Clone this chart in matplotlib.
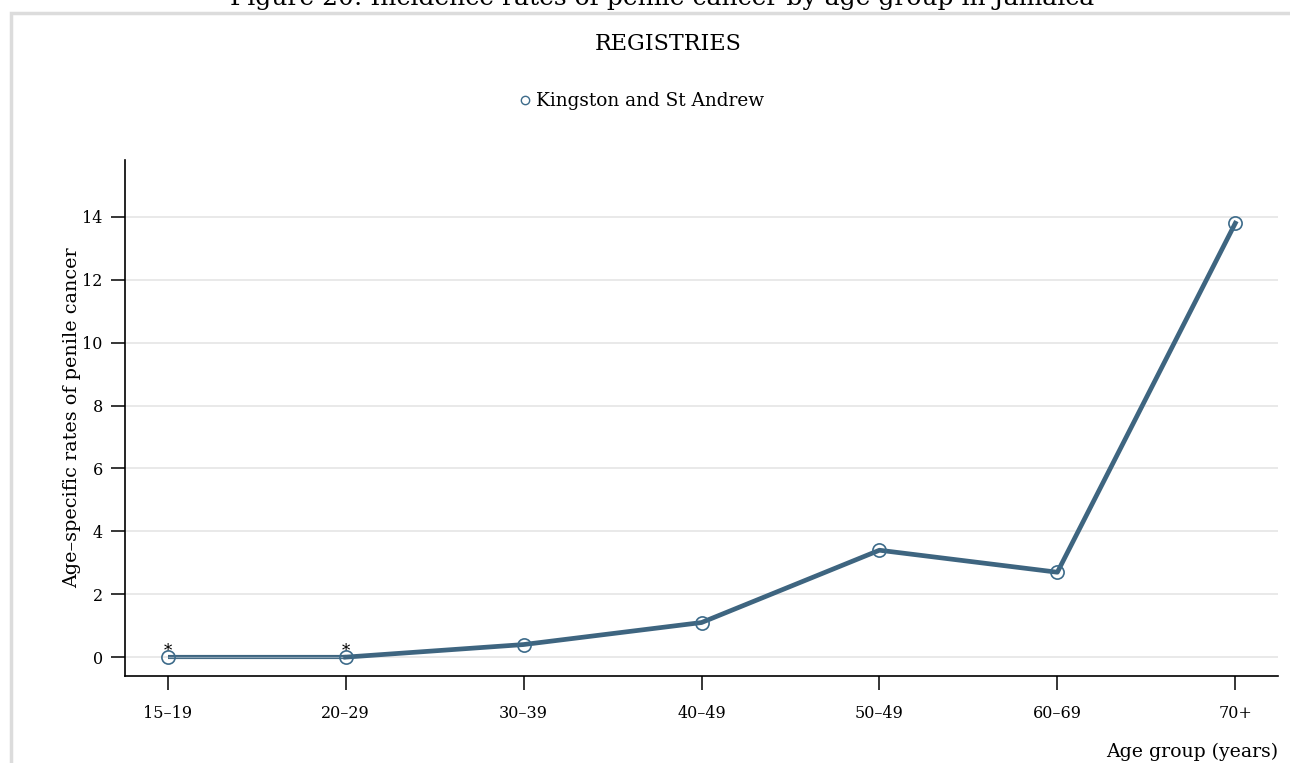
import matplotlib
matplotlib.use("Agg")
import matplotlib.pyplot as plt
from matplotlib.patches import Rectangle
from matplotlib.lines import Line2D

categories = ["15\u201319", "20\u201329", "30\u201339", "40\u201349", "50\u201349", "60\u201369", "70+"]
rates = [0.0, 0.0, 0.4, 1.1, 3.4, 2.7, 13.8]
starred = [True, True, False, False, False, False, False]
y_ticks = [0, 2, 4, 6, 8, 10, 12, 14]

plt.rcParams['font.family'] = ['DejaVu Serif']

W, H = 1290, 763
fig = plt.figure(figsize=(W / 100, H / 100), dpi=100)
ax = fig.add_axes([125 / W, 1 - 676 / H, (1278 - 125) / W, (676 - 160) / H])

line_col = "#3e6580"
mk_col = "#3d6b8a"
x = list(range(len(categories)))

ax.set_xlim(-0.24, 6.24)
ax.set_ylim(-0.6, 15.81)
ax.set_yticks(y_ticks)
ax.set_xticks(x)
ax.set_xticklabels(categories)
ax.grid(axis='y', color='#e3e3e3', linewidth=1.1)
ax.set_axisbelow(True)
for s in ['top', 'right']:
    ax.spines[s].set_visible(False)
for s in ['left', 'bottom']:
    ax.spines[s].set_linewidth(1.2)
ax.tick_params(axis='both', length=10, width=1.1, labelsize=11.5)
ax.tick_params(axis='x', pad=11)
ax.tick_params(axis='y', pad=6)

# thin segment between starred points
ax.plot(x[:2], rates[:2], color=line_col, linewidth=3.0, solid_capstyle='butt', zorder=3)
ax.plot(x[:2], rates[:2], color='#8aa3b5', linewidth=0.9, solid_capstyle='butt', zorder=3)
ax.plot(x[1:], rates[1:], color=line_col, linewidth=3.4, solid_joinstyle='round', zorder=3)
ax.plot(x, rates, linestyle='none', marker='o', markersize=9.5, markerfacecolor='none',
        markeredgecolor=mk_col, markeredgewidth=1.2, zorder=4)
for xi, yi, st in zip(x, rates, starred):
    if st:
        ax.annotate('*', (xi, yi), xytext=(0, 4), textcoords='offset points',
                    ha='center', va='center', fontsize=12)

ax.set_ylabel("Age\u2013specific rates of penile cancer", fontsize=13.8, labelpad=1)
fig.text(1278 / W, 1 - 752 / H, "Age group (years)", ha='right', va='center', fontsize=13.6)

# outer border
fig.patches.append(Rectangle((10.5 / W, -0.1), 1.2, 1 - 13 / H + 0.1, transform=fig.transFigure,
                             fill=False, edgecolor='#dcdcdc', linewidth=2.5))

fig.text(662 / W, 1 - 5 / H, "Figure 20: Incidence rates of penile cancer by age group in Jamaica",
         ha='center', va='baseline', fontsize=18)
fig.text(668 / W, 1 - 44 / H, "REGISTRIES", ha='center', va='center', fontsize=16)

handle = Line2D([], [], linestyle='none', marker='o', markersize=6, markerfacecolor='none',
                markeredgecolor=mk_col, markeredgewidth=1.0)
fig.legend([handle], ["Kingston and St Andrew"], loc='center', bbox_to_anchor=(641 / W, 1 - 101 / H),
           frameon=False, fontsize=13.3, handlelength=0.7, handletextpad=0.25)

fig.savefig("out.png", dpi=100)
